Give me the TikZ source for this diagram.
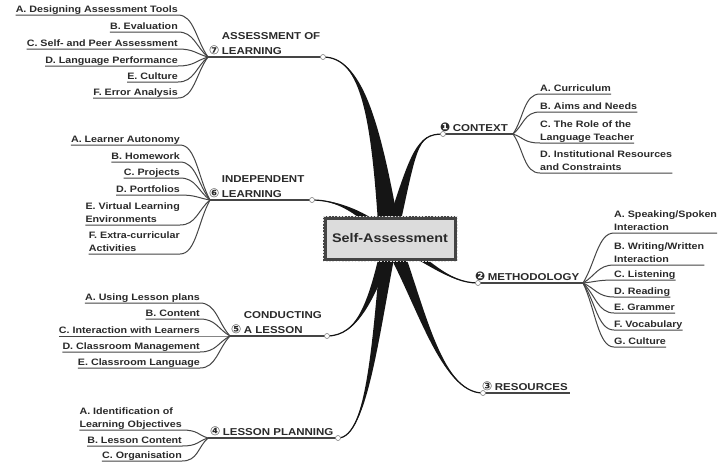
\documentclass[tikz,border=0pt]{standalone}
\usepackage{fontspec}
\setmainfont[FakeStretch=1.15]{Liberation Sans}
\newfontfamily\cnfont{DejaVu Sans}
\usetikzlibrary{calc}
\definecolor{txt}{HTML}{2A2A2A}
\definecolor{lc}{HTML}{454545}
\definecolor{brc}{HTML}{151515}
\definecolor{boxfill}{HTML}{DCDCDC}
\definecolor{frame}{HTML}{444444}
\newcommand{\circnum}[1]{{\cnfont\fontsize{12}{12}\selectfont #1}\hspace{2.5pt}}
\newcommand{\leftsub}[2]{\draw[subline] (#2.south west) -- (#2.south east) .. controls +(16,0) and ($(#1)!0.4!(#2.south east)$) .. (#1);}
\newcommand{\rightsub}[2]{\draw[subline] (#1) .. controls ($(#1)!0.4!(#2.south west)$) and +(-16,0) .. (#2.south west) -- (#2.south east);}
\newcommand{\mbranch}[4]{%
  \fill[branch] ($(c0)+(#4)$) .. controls ($(#2)+0.4*(#4)$) and (#3) .. (#1)
     .. controls (#3) and ($(#2)-0.4*(#4)$) .. ($(c0)-(#4)$) -- cycle;
  \draw[branchedge] (c0) .. controls (#2) and (#3) .. (#1);}
\begin{document}
\begin{tikzpicture}[x=1pt,y=-1pt,
  item/.style={font=\fontsize{9.3}{13}\selectfont\bfseries, text=txt, inner sep=0pt, align=left,
     execute at end node={\rule[-2.3pt]{0pt}{0pt}}},
  mlabel/.style={font=\fontsize{10}{15}\selectfont\bfseries, text=txt, inner sep=0pt, align=left,
     execute at end node={\rule[-2.3pt]{0pt}{0pt}}},
  subline/.style={draw=lc, line width=1pt},
  mainline/.style={draw=lc, line width=1.3pt},
  branch/.style={fill=brc},
  branchedge/.style={draw=brc, line width=1.2pt},
  endc/.style={circle, draw=gray, fill=white, line width=0.6pt, minimum size=5pt, inner sep=0pt},
  centerbox/.style={rectangle, fill=boxfill, draw=frame, line width=3.5pt, minimum width=130.5pt,
     minimum height=41.5pt, font=\fontsize{12.5}{14}\selectfont\bfseries, text=txt}]
\useasboundingbox[fill=white] (0,0) rectangle (725,464);

% centre and branch ends
\coordinate (c0) at (390,238.5);
\coordinate (p7) at (323,57);
\coordinate (p6) at (312,200);
\coordinate (p5) at (327,336);
\coordinate (p4) at (338,438);
\coordinate (p3) at (483,393);
\coordinate (p2) at (478,283);
\coordinate (p1) at (443,134);
% hubs
\coordinate (h7) at (208,57);
\coordinate (h6) at (210,200);
\coordinate (h5) at (230,336);
\coordinate (h4) at (208,438);
\coordinate (h3) at (570,393);
\coordinate (h2) at (583,283);
\coordinate (h1) at (513,134);

% main branches
\mbranch{p7}{376,120}{362,57}{11,0}
\mbranch{p1}{414,150}{416,134}{7,0}
\mbranch{p6}{360,210}{335,200}{4,-5}
\mbranch{p2}{425,258}{448,283}{-3,5}
\mbranch{p3}{420,300}{440,393}{8,-3}
\mbranch{p5}{372,300}{358,336}{7,0}
\mbranch{p4}{376,330}{368,438}{8,0}

% main label underlines
\draw[mainline] (p7) -- (h7);
\draw[mainline] (p6) -- (h6);
\draw[mainline] (p5) -- (h5);
\draw[mainline] (p4) -- (h4);
\draw[mainline] (p3) -- (h3);
\draw[mainline] (p2) -- (h2);
\draw[mainline] (p1) -- (h1);

% centre box
\node[centerbox] (ctr) at (c0) {Self-Assessment};
\draw[white!75!gray, line width=1pt, dash pattern=on 1.6pt off 1.6pt]
  (ctr.north west) rectangle (ctr.south east);

% end circles
\foreach \p in {p7,p6,p5,p4,p3,p2,p1} \node[endc] (e\p) at (\p) {};

% main labels
\node[mlabel, anchor=south west] (l7) at (209,57) {\phantom{\circnum{⑦}}ASSESSMENT OF\\\circnum{⑦}LEARNING};
\node[mlabel, anchor=south west] (l6) at (209,200) {\phantom{\circnum{⑥}}INDEPENDENT\\\circnum{⑥}LEARNING};
\node[mlabel, anchor=south west] (l5) at (231,336) {\phantom{\circnum{⑤}}CONDUCTING\\\circnum{⑤}A LESSON};
\node[mlabel, anchor=south west] (l4) at (210,438) {\circnum{④}LESSON PLANNING};
\node[mlabel, anchor=south west] (l3) at (482,393) {\circnum{③}RESOURCES};
\node[mlabel, anchor=south west] (l2) at (475,283) {\circnum{❷}METHODOLOGY};
\node[mlabel, anchor=south west] (l1) at (440,134) {\circnum{❶}CONTEXT};

% assessment of learning
\node[item, anchor=south east] (a71) at (178,15) {A. Designing Assessment Tools};
\node[item, anchor=south east] (a72) at (178,32) {B. Evaluation};
\node[item, anchor=south east] (a73) at (178,49) {C. Self- and Peer Assessment};
\node[item, anchor=south east] (a74) at (178,66) {D. Language Performance};
\node[item, anchor=south east] (a75) at (178,82) {E. Culture};
\node[item, anchor=south east] (a76) at (178,98) {F. Error Analysis};
\foreach \n in {a71,a72,a73,a74,a75,a76} {\leftsub{h7}{\n}}

% independent learning
\node[item, anchor=south east] (a61) at (180,145) {A. Learner Autonomy};
\node[item, anchor=south east] (a62) at (180,162) {B. Homework};
\node[item, anchor=south east] (a63) at (180,178) {C. Projects};
\node[item, anchor=south east] (a64) at (180,195) {D. Portfolios};
\node[item, anchor=south east] (a65) at (180,225) {E. Virtual Learning\\Environments};
\node[item, anchor=south east] (a66) at (180,254) {F. Extra-curricular\\Activities};
\foreach \n in {a61,a62,a63,a64,a65,a66} {\leftsub{h6}{\n}}

% conducting a lesson
\node[item, anchor=south east] (a51) at (200,303) {A. Using Lesson plans};
\node[item, anchor=south east] (a52) at (200,319) {B. Content};
\node[item, anchor=south east] (a53) at (200,336) {C. Interaction with Learners};
\node[item, anchor=south east] (a54) at (200,352) {D. Classroom Management};
\node[item, anchor=south east] (a55) at (200,368) {E. Classroom Language};
\foreach \n in {a51,a52,a53,a54,a55} {\leftsub{h5}{\n}}

% lesson planning
\node[item, anchor=south east] (a41) at (182,430) {A. Identification of\\Learning Objectives};
\node[item, anchor=south east] (a42) at (182,446) {B. Lesson Content};
\node[item, anchor=south east] (a43) at (182,461) {C. Organisation};
\foreach \n in {a41,a42,a43} {\leftsub{h4}{\n}}

% context
\node[item, anchor=south west] (a11) at (540,94) {A. Curriculum};
\node[item, anchor=south west] (a12) at (540,112) {B. Aims and Needs};
\node[item, anchor=south west] (a13) at (540,143) {C. The Role of the\\Language Teacher};
\node[item, anchor=south west] (a14) at (540,173) {D. Institutional Resources\\and Constraints};
\foreach \n in {a11,a12,a13,a14} {\rightsub{h1}{\n}}

% methodology
\node[item, anchor=south west] (a21) at (614,233) {A. Speaking/Spoken\\Interaction};
\node[item, anchor=south west] (a22) at (614,265) {B. Writing/Written\\Interaction};
\node[item, anchor=south west] (a23) at (614,280) {C. Listening};
\node[item, anchor=south west] (a24) at (614,297) {D. Reading};
\node[item, anchor=south west] (a25) at (614,313) {E. Grammer};
\node[item, anchor=south west] (a26) at (614,330) {F. Vocabulary};
\node[item, anchor=south west] (a27) at (614,347) {G. Culture};
\foreach \n in {a21,a22,a23,a24,a25,a26,a27} {\rightsub{h2}{\n}}
\end{tikzpicture}
\end{document}
